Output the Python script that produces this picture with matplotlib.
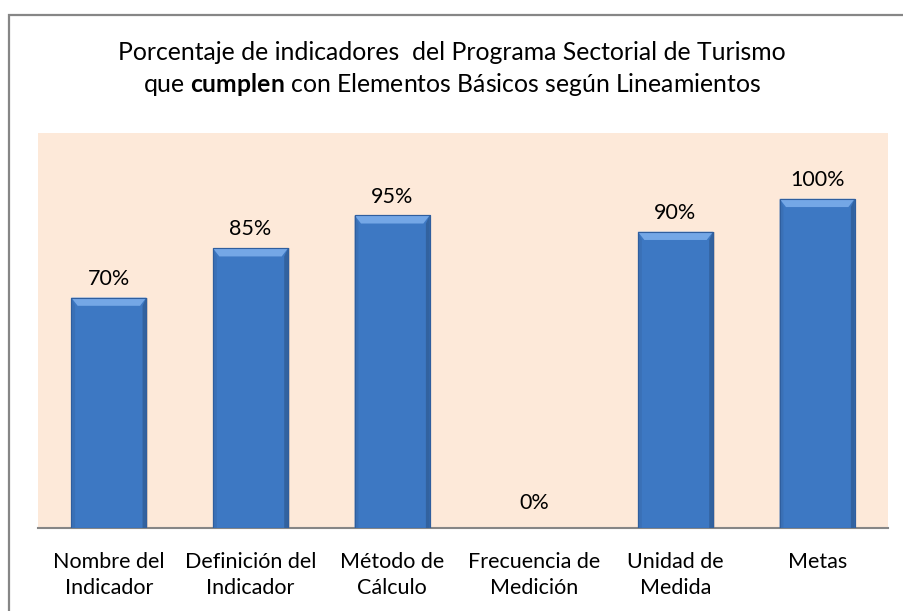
#!/usr/bin/env python3
"""Porcentaje de indicadores que cumplen con elementos basicos."""

import matplotlib

matplotlib.use("Agg")
import matplotlib.pyplot as plt
from matplotlib.patches import Polygon, Rectangle

categories = [
    "Nombre del\nIndicador",
    "Definición del\nIndicador",
    "Método de\nCálculo",
    "Frecuencia de\nMedición",
    "Unidad de\nMedida",
    "Metas",
]
values = [0.70, 0.85, 0.95, 0.0, 0.90, 1.00]
labels = ["70%", "85%", "95%", "0%", "90%", "100%"]

FONT = "Lato"
plt.rcParams["font.family"] = [FONT, "DejaVu Sans"]
plt.rcParams["mathtext.fontset"] = "custom"
plt.rcParams["mathtext.rm"] = FONT
plt.rcParams["mathtext.bf"] = f"{FONT}:bold"

fig = plt.figure(figsize=(9.04, 6.11), dpi=100)
W, H = 904, 611

# outer chart border
fig.patches.append(
    Rectangle((8.5 / W, -0.1), 1.2, (611 - 15) / H + 0.1, transform=fig.transFigure,
              fill=False, edgecolor="#868686", linewidth=1.6)
)

ax = fig.add_axes([38 / W, 1 - 528 / H, 850 / W, 395 / H])
ax.set_facecolor("#FDE9D9")
ax.set_xlim(-0.5, len(values) - 0.5)
ax.set_ylim(0, 1.2)

width = 0.53
bw = 0.045   # bevel width, x units
bh = 0.025   # bevel height, y units
for i, v in enumerate(values):
    x0, x1 = i - width / 2, i + width / 2
    if v > 0:
        ax.add_patch(Rectangle((x0 + 0.012, 0), width, v, facecolor="#000000",
                               alpha=0.12, edgecolor="none", zorder=2))
        ax.add_patch(Rectangle((x0, 0), width, v, facecolor="#3D78C3",
                               edgecolor="#2F5E9E", linewidth=0.8, zorder=3))
        # side bevels
        ax.add_patch(Polygon([(x0, 0), (x0 + bw * 0.6, 0), (x0 + bw * 0.6, v - bh), (x0, v)],
                             facecolor="#3A70B6", edgecolor="none", zorder=4))
        ax.add_patch(Polygon([(x1, 0), (x1 - bw * 0.6, 0), (x1 - bw * 0.6, v - bh), (x1, v)],
                             facecolor="#32629F", edgecolor="none", zorder=4))
        # top bevel
        ax.add_patch(Polygon([(x0, v), (x1, v), (x1 - bw, v - bh), (x0 + bw, v - bh)],
                             facecolor="#74A7E6", edgecolor="none", zorder=4))
        ax.add_patch(Rectangle((x0, 0), width, v, fill=False,
                               edgecolor="#2F5E9E", linewidth=0.8, zorder=5))
    ax.annotate(labels[i], (i, v), xytext=(0, 13.5 if v > 0 else 18),
                textcoords="offset points", ha="center", va="center",
                fontsize=15.5, color="#000000")

ax.set_xticks(range(len(categories)))
ax.set_xticklabels(categories, fontsize=15.5, linespacing=1.33)
ax.tick_params(axis="x", length=0, pad=17.5)
ax.set_yticks([])
for side in ("top", "left", "right"):
    ax.spines[side].set_visible(False)
ax.spines["bottom"].set_color("#868686")
ax.spines["bottom"].set_linewidth(1.5)

fig.text(0.5, 1 - 53 / H, "Porcentaje de indicadores  del Programa Sectorial de Turismo",
         ha="center", va="center", fontsize=17.8)
fig.text(0.5, 1 - 85 / H, r"que $\mathbf{cumplen}$ con Elementos Básicos según Lineamientos",
         ha="center", va="center", fontsize=17.8)

fig.savefig("out.png", dpi=100)
